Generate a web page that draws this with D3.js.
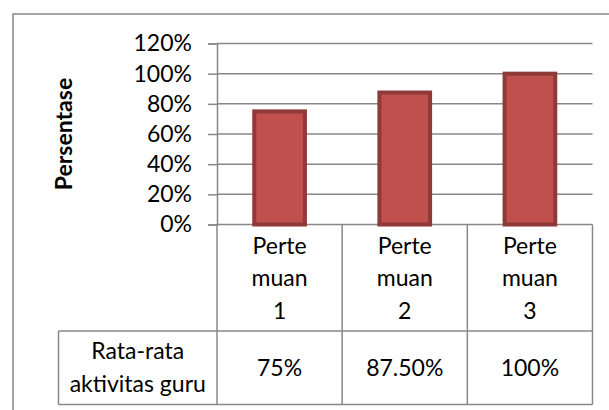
<!DOCTYPE html>
<html>
<head>
<meta charset="utf-8">
<script src="https://cdn.jsdelivr.net/npm/d3@7"></script>
<style>
  body { margin: 0; background: #fff; }
  svg { display: block; font-family: Lato, "Noto Sans", sans-serif; }
</style>
</head>
<body>
<div id="chart"></div>
<script>
// data
const categories = ["Pertemuan 1", "Pertemuan 2", "Pertemuan 3"];
const categoryLines = [["Perte", "muan", "1"], ["Perte", "muan", "2"], ["Perte", "muan", "3"]];
const values = [0.75, 0.875, 1.0];
const valueLabels = ["75%", "87.50%", "100%"];
const yTicks = [0, 0.2, 0.4, 0.6, 0.8, 1.0, 1.2];
const seriesLines = ["Rata-rata", "aktivitas guru"];
const yTitle = "Persentase";

const width = 609;
const height = 410;
const grey = "#888";

const svg = d3.select("#chart")
  .append("svg")
  .attr("width", width)
  .attr("height", height);

// chart border (runs past the right and bottom edges)
svg.append("rect")
  .attr("x", 13).attr("y", 14)
  .attr("width", 620).attr("height", 420)
  .attr("fill", "none")
  .attr("stroke", grey)
  .attr("stroke-width", 1.5);

// scales
const x = d3.scaleBand()
  .domain(categories)
  .range([217, 592.5]);

const y = d3.scaleLinear()
  .domain([0, 1.2])
  .range([224.5, 43.5]);

const tableTop = y(0);
const rowSplit = 331;
const tableBottom = 404.5;
const keyLeft = 58.5;

// gridlines
svg.append("g")
  .selectAll("line")
  .data(yTicks)
  .join("line")
  .attr("x1", x.range()[0])
  .attr("x2", x.range()[1])
  .attr("y1", d => y(d))
  .attr("y2", d => y(d))
  .attr("stroke", grey)
  .attr("stroke-width", 1.5);

// y axis
const yAxis = svg.append("g")
  .attr("transform", `translate(${x.range()[0]},0)`)
  .call(d3.axisLeft(y).tickValues(yTicks).tickSize(9).tickPadding(16).tickFormat(d3.format(".0%")));

yAxis.select(".domain").attr("stroke", grey).attr("stroke-width", 1.5);
yAxis.selectAll(".tick line").attr("stroke", grey).attr("stroke-width", 1.5);
yAxis.selectAll(".tick text")
  .attr("font-size", 23)
  .attr("font-family", "Lato, sans-serif")
  .attr("fill", "#000");

// y title
svg.append("text")
  .attr("transform", `translate(72,${(y(0) + y(1.2)) / 2}) rotate(-90)`)
  .attr("text-anchor", "middle")
  .attr("font-size", 23)
  .attr("font-weight", "bold")
  .text(yTitle);

// bars
const barW = x.bandwidth() * 0.405;
svg.append("g")
  .selectAll("rect")
  .data(values)
  .join("rect")
  .attr("x", (d, i) => x(categories[i]) + (x.bandwidth() - barW) / 2)
  .attr("y", d => y(d))
  .attr("width", barW)
  .attr("height", d => y(0) - y(d))
  .attr("fill", "#C0504D")
  .attr("stroke", "#8E3A38")
  .attr("stroke-width", 4);

// data table lines
const table = svg.append("g")
  .attr("stroke", grey)
  .attr("stroke-width", 1.5);

table.append("line")
  .attr("x1", x.range()[0]).attr("x2", x.range()[0])
  .attr("y1", tableTop).attr("y2", tableBottom);

table.selectAll(".vsep")
  .data(categories)
  .join("line")
  .attr("class", "vsep")
  .attr("x1", d => x(d) + x.bandwidth())
  .attr("x2", d => x(d) + x.bandwidth())
  .attr("y1", tableTop)
  .attr("y2", tableBottom);

[rowSplit, tableBottom].forEach(yy => {
  table.append("line")
    .attr("x1", keyLeft).attr("x2", x.range()[1])
    .attr("y1", yy).attr("y2", yy);
});

table.append("line")
  .attr("x1", keyLeft).attr("x2", keyLeft)
  .attr("y1", rowSplit).attr("y2", tableBottom);

// category labels
const catText = svg.append("g")
  .selectAll("text")
  .data(categories)
  .join("text")
  .attr("text-anchor", "middle")
  .attr("font-size", 23)
  .attr("x", d => x(d) + x.bandwidth() / 2);

catText.each(function(d, i) {
  d3.select(this).selectAll("tspan")
    .data(categoryLines[i])
    .join("tspan")
    .attr("x", x(d) + x.bandwidth() / 2)
    .attr("y", (t, j) => 253.5 + j * 32.5)
    .text(t => t);
});

// value row
svg.append("g")
  .selectAll("text")
  .data(valueLabels)
  .join("text")
  .attr("text-anchor", "middle")
  .attr("font-size", 23)
  .attr("x", (d, i) => x(categories[i]) + x.bandwidth() / 2)
  .attr("y", 376)
  .text(d => d);

// series key
svg.append("text")
  .attr("text-anchor", "middle")
  .attr("font-size", 23)
  .selectAll("tspan")
  .data(seriesLines)
  .join("tspan")
  .attr("x", (keyLeft + x.range()[0]) / 2)
  .attr("y", (d, i) => 359 + i * 32.5)
  .text(d => d);
</script>
</body>
</html>
